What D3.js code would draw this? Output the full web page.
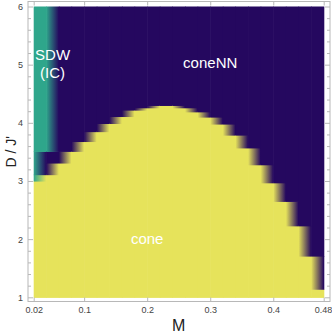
<!DOCTYPE html>
<html>
<head>
<meta charset="utf-8">
<script src="https://cdn.jsdelivr.net/npm/d3@7"></script>
<style>
  body { margin: 0; background: #fff; }
  svg text { font-family: "Liberation Sans", Arial, sans-serif; }
</style>
</head>
<body>
<div id="chart"></div>
<script>
// grid of M values (columns of the density plot)
var mValues = [0.02, 0.04, 0.06, 0.08, 0.10, 0.12, 0.14, 0.16, 0.18, 0.20, 0.22, 0.24,
               0.26, 0.28, 0.30, 0.32, 0.34, 0.36, 0.38, 0.40, 0.42, 0.44, 0.46, 0.48];
// D/J' below which the phase is "cone", per column
var coneTop = [3.00, 3.11, 3.31, 3.51, 3.68, 3.85, 3.99, 4.11, 4.22, 4.26, 4.30, 4.30,
               4.26, 4.19, 4.10, 3.98, 3.79, 3.57, 3.28, 2.97, 2.65, 2.23, 1.71, 1.14];
// D/J' above which the phase is "SDW (IC)", per column (null = none)
var sdwBottom = [3.00, 3.51, null, null, null, null, null, null, null, null, null, null,
                 null, null, null, null, null, null, null, null, null, null, null, null];
var dRange = [1, 6];

var xTicks = [0.02, 0.1, 0.2, 0.3, 0.4, 0.48];
var yTicks = [1, 2, 3, 4, 5, 6];
var yMinorTicks = [1.2, 1.4, 1.6, 1.8, 2.2, 2.4, 2.6, 2.8, 3.2, 3.4, 3.6, 3.8,
                   4.2, 4.4, 4.6, 4.8, 5.2, 5.4, 5.6, 5.8];

var phases = ["coneNN", "SDW", "cone"];
var labels = [
  {text: "SDW", m: 0.05, d: 5.08},
  {text: "(IC)", m: 0.05, d: 4.77},
  {text: "coneNN", m: 0.30, d: 4.94},
  {text: "cone", m: 0.20, d: 1.92}
];

var width = 332, height = 336;
var frame = {left: 28, right: 330, top: 1.5, bottom: 301.5};

var xScale = d3.scaleLinear().domain([0.02, 0.48]).range([33.7, 323.7]);
var yScale = d3.scaleLinear().domain(dRange).range([297.3, 6.5]);
var color = d3.scaleOrdinal().domain(phases).range(["#25085f", "#2ea68b", "#e6e35b"]);

function phaseAt(i, d)
{
  if(d < coneTop[i]) return "cone";
  if(sdwBottom[i] !== null && d >= sdwBottom[i]) return "SDW";
  return "coneNN";
}

var svg = d3.select("#chart").append("svg")
            .attr("width", width)
            .attr("height", height);

var defs = svg.append("defs");
var plot = svg.append("g");

// build cells between neighbouring columns, colours blended linearly in M
var cells = [];
for(var i = 0; i < mValues.length - 1; i++)
{
  var cuts = [dRange[0], dRange[1], coneTop[i], coneTop[i + 1]];
  if(sdwBottom[i] !== null) cuts.push(sdwBottom[i]);
  if(sdwBottom[i + 1] !== null) cuts.push(sdwBottom[i + 1]);
  cuts = Array.from(new Set(cuts.filter(function(c) {return c >= dRange[0] && c <= dRange[1];})))
              .sort(d3.ascending);
  for(var k = 0; k < cuts.length - 1; k++)
  {
    var mid = (cuts[k] + cuts[k + 1]) / 2;
    cells.push({i: i, d0: cuts[k], d1: cuts[k + 1],
                left: phaseAt(i, mid), right: phaseAt(i + 1, mid)});
  }
}

cells.forEach(function(c, n)
{
  var x0 = xScale(mValues[c.i]), x1 = xScale(mValues[c.i + 1]);
  var fill = color(c.left);
  if(c.left !== c.right)
  {
    var g = defs.append("linearGradient")
                .attr("id", "g" + n)
                .attr("gradientUnits", "userSpaceOnUse")
                .attr("x1", x0).attr("x2", x1)
                .attr("y1", 0).attr("y2", 0);
    g.append("stop").attr("offset", 0).attr("stop-color", color(c.left));
    g.append("stop").attr("offset", 1).attr("stop-color", color(c.right));
    fill = "url(#g" + n + ")";
  }
  plot.append("rect")
      .attr("x", x0)
      .attr("y", yScale(c.d1))
      .attr("width", x1 - x0 + 0.6)
      .attr("height", yScale(c.d0) - yScale(c.d1) + 0.6)
      .attr("fill", fill);
});

// phase labels
svg.append("g").selectAll("text")
   .data(labels)
   .enter().append("text")
   .attr("x", function(d) {return xScale(d.m);})
   .attr("y", function(d) {return yScale(d.d);})
   .attr("text-anchor", "middle")
   .attr("font-size", 15)
   .attr("fill", "#ffffff")
   .text(function(d) {return d.text;});

// frame
svg.append("rect")
   .attr("x", frame.left).attr("y", frame.top)
   .attr("width", frame.right - frame.left)
   .attr("height", frame.bottom - frame.top)
   .attr("fill", "none")
   .attr("stroke", "#b8b8b8")
   .attr("stroke-width", 1);

function styleAxis(g)
{
  g.select(".domain").remove();
  g.selectAll(".tick line").attr("stroke", "#b8b8b8");
  g.selectAll(".tick text").attr("fill", "#444").attr("font-size", 9)
   .attr("font-family", "Liberation Sans, Arial, sans-serif");
}

var xAxis = svg.append("g")
   .attr("transform", "translate(0," + frame.bottom + ")")
   .call(d3.axisBottom(xScale).tickValues(xTicks).tickSizeInner(-4).tickPadding(5)
           .tickFormat(function(d) {return String(+d.toFixed(2));}))
   .call(styleAxis);

// keep the last label inside the window
xAxis.selectAll(".tick text")
     .filter(function(d) {return d === 0.48;})
     .attr("text-anchor", "end")
     .attr("x", 8);

svg.append("g")
   .attr("transform", "translate(0," + frame.top + ")")
   .call(d3.axisTop(xScale).tickValues(xTicks).tickSizeInner(-4).tickFormat(""))
   .call(styleAxis);

svg.append("g")
   .attr("transform", "translate(" + frame.left + ",0)")
   .call(d3.axisLeft(yScale).tickValues(yTicks).tickSizeInner(-5).tickPadding(5)
           .tickFormat(d3.format("d")))
   .call(styleAxis);

svg.append("g")
   .attr("transform", "translate(" + frame.left + ",0)")
   .call(d3.axisLeft(yScale).tickValues(yMinorTicks).tickSizeInner(-3).tickFormat(""))
   .call(styleAxis);

svg.append("g")
   .attr("transform", "translate(" + frame.right + ",0)")
   .call(d3.axisRight(yScale).tickValues(yTicks).tickSizeInner(-5).tickFormat(""))
   .call(styleAxis);

svg.append("g")
   .attr("transform", "translate(" + frame.right + ",0)")
   .call(d3.axisRight(yScale).tickValues(yMinorTicks).tickSizeInner(-3).tickFormat(""))
   .call(styleAxis);

// axis titles
svg.append("text")
   .attr("x", xScale(0.25))
   .attr("y", 331)
   .attr("text-anchor", "middle")
   .attr("font-size", 16)
   .attr("fill", "#222")
   .text("M");

svg.append("text")
   .attr("transform", "translate(16," + yScale(3.5) + ") rotate(-90)")
   .attr("text-anchor", "middle")
   .attr("font-size", 14)
   .attr("fill", "#222")
   .text("D / J'");
</script>
</body>
</html>
